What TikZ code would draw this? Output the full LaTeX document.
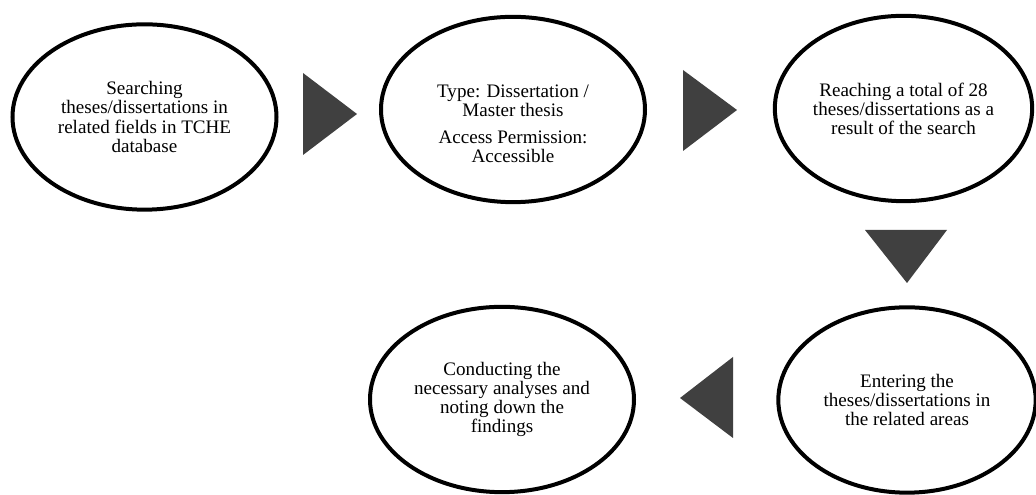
\documentclass[tikz,border=0pt]{standalone}
\usepackage{fontspec}
\setmainfont{Liberation Serif}
\usepackage{tikz}
\usepackage{xcolor}
\usetikzlibrary{shapes.geometric,positioning}
\definecolor{pointergray}{RGB}{64,64,64}
\tikzstyle{stage} = [draw, ellipse, line width=3pt, inner sep=0pt, minimum width=198pt, minimum height=139pt, align=center, font=\fontsize{14.3}{14.3}\selectfont]
\tikzstyle{stagetext} = [align=center, font=\fontsize{14.3}{14.3}\selectfont]
\tikzstyle{pointer} = [fill=pointergray]

\begin{document}
\begin{tikzpicture}[x=0.75pt, y=0.75pt]
			\useasboundingbox (0,0) rectangle (1036,495);
			\node[stage] (search) at (144.5,378) {Searching\\theses/dissertations in\\related fields in TCHE\\database};
			\node[stage] (type) at (513,385.5) {};
			\node[stagetext] (typetext) at ([yshift=-10.5pt]type.center) {Type: Dissertation /\\Master thesis\\[6pt]Access Permission:\\Accessible};
			\node[stage, minimum width=193pt] (total) at (903.5,386.5) {Reaching a total of 28\\theses/dissertations as a\\result of the search};
			\node[stage, minimum width=193pt] (enter) at (907,95) {Entering the\\theses/dissertations in\\the related areas};
			\node[stage] (analyse) at (502,95.5) {Conducting the\\necessary analyses and\\noting down the\\findings};
			\fill[pointer] (303,422) -- (357,381) -- (303,340) -- cycle;
			\fill[pointer] (683,425) -- (737,385) -- (683,344) -- cycle;
			\fill[pointer] (865,265) -- (947,265) -- (907,212) -- cycle;
			\fill[pointer] (733,138) -- (680,97) -- (733,57) -- cycle;
		\end{tikzpicture}
\end{document}
